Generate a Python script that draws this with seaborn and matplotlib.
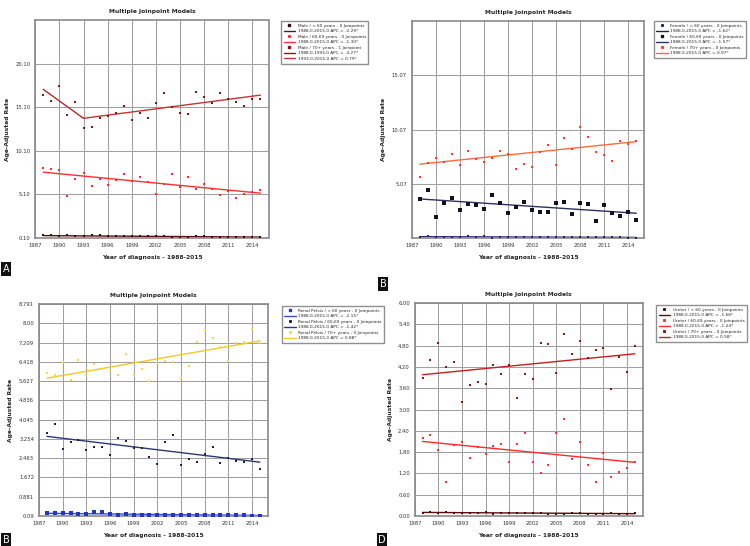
import matplotlib
matplotlib.use("Agg")
import matplotlib.pyplot as plt
from matplotlib.lines import Line2D
import seaborn as sns

years = list(range(1988, 2016))
x_ticks = list(range(1987, 2015, 3))

# Panel A - Male
male_lt60 = [0.40, 0.45, 0.38, 0.42, 0.36, 0.35, 0.44, 0.45, 0.33, 0.30, 0.36, 0.32, 0.28, 0.30,
             0.31, 0.30, 0.27, 0.26, 0.25, 0.33, 0.28, 0.24, 0.26, 0.27, 0.25, 0.22, 0.21, 0.20]
male_60_69 = [8.10, 8.04, 7.92, 4.95, 6.85, 7.58, 6.13, 6.93, 6.20, 6.78, 7.43, 6.66, 7.12, 6.51,
              5.10, 6.32, 7.47, 5.98, 7.16, 5.75, 6.36, 5.75, 4.99, 5.52, 4.64, 5.10, 5.33, 5.63]
male_70 = [16.50, 15.80, 17.60, 14.20, 15.70, 12.70, 12.85, 13.90, 14.10, 14.40, 15.20, 13.65, 14.40, 13.90,
           15.55, 16.74, 15.18, 14.40, 14.30, 16.90, 16.30, 15.55, 16.80, 16.05, 15.75, 15.25, 16.10, 16.10]
male_lt60_fit = [0.38, 0.21]
male_60_69_fit = [7.66, 5.25]
male_70_fit_a = [17.16, 13.84]
male_70_fit_b = [13.84, 16.50]

# Panel B - Female
female_lt60 = [0.20, 0.22, 0.21, 0.20, 0.17, 0.20, 0.22, 0.21, 0.23, 0.09, 0.18, 0.19, 0.17, 0.16,
               0.18, 0.17, 0.16, 0.17, 0.16, 0.14, 0.17, 0.15, 0.14, 0.13, 0.13, 0.15, 0.12, 0.12]
female_60_69 = [3.68, 4.54, 2.00, 3.34, 3.77, 2.67, 3.22, 3.10, 2.79, 4.02, 3.28, 2.42, 2.94, 3.37,
                2.67, 2.52, 2.52, 3.31, 3.37, 2.30, 3.31, 3.19, 1.66, 3.10, 2.42, 2.15, 2.52, 1.69]
female_70 = [5.73, 6.95, 7.47, 7.13, 7.84, 6.77, 8.14, 7.35, 7.13, 7.50, 8.11, 7.81, 6.43, 6.92,
             6.58, 8.02, 8.66, 6.83, 9.34, 8.33, 10.31, 9.37, 8.05, 7.72, 7.20, 9.00, 8.79, 9.00]
female_lt60_fit = [0.20, 0.13]
female_60_69_fit = [3.68, 2.36]
female_70_fit = [6.89, 8.97]

# Panel C - Renal pelvis
renal_lt60 = [0.21, 0.21, 0.21, 0.21, 0.17, 0.17, 0.24, 0.24, 0.17, 0.14, 0.17, 0.14, 0.14, 0.14,
              0.15, 0.14, 0.12, 0.14, 0.13, 0.14, 0.15, 0.13, 0.12, 0.15, 0.12, 0.13, 0.10, 0.10]
renal_60_69 = [3.50, 3.85, 2.83, 3.12, 3.19, 2.82, 2.91, 2.94, 2.60, 3.29, 3.16, 2.87, 2.89, 2.52,
               2.24, 3.12, 3.40, 2.20, 2.44, 2.30, 2.64, 2.91, 2.26, 2.48, 2.34, 2.30, 2.44, 2.03]
renal_70 = [5.98, 5.86, 6.43, 5.68, 6.50, 5.86, 6.32, 6.12, 6.05, 5.89, 6.74, 5.90, 6.12, 5.65,
            6.39, 6.47, 6.42, 5.75, 6.23, 7.25, 7.73, 7.40, 7.03, 6.46, 7.21, 7.22, 7.75, 7.18]
renal_lt60_fit = [0.20, 0.11]
renal_60_69_fit = [3.36, 2.30]
renal_70_fit = [5.75, 7.28]

# Panel D - Ureter
ureter_lt60 = [0.09, 0.11, 0.08, 0.11, 0.09, 0.09, 0.09, 0.09, 0.10, 0.06, 0.08, 0.09, 0.07, 0.08,
               0.07, 0.07, 0.06, 0.06, 0.06, 0.07, 0.07, 0.05, 0.05, 0.06, 0.07, 0.05, 0.05, 0.07]
ureter_60_69 = [2.20, 2.29, 1.86, 0.96, 2.00, 2.09, 1.63, 1.94, 1.76, 1.96, 2.03, 1.52, 2.02, 2.35,
                1.53, 1.20, 1.43, 2.34, 2.74, 1.61, 2.09, 1.44, 0.96, 1.77, 1.11, 1.23, 1.36, 1.51]
ureter_70 = [3.90, 4.39, 4.87, 4.20, 4.34, 3.22, 3.70, 3.77, 3.73, 4.26, 4.00, 4.26, 3.31, 4.00,
             3.85, 4.87, 4.85, 4.02, 5.13, 4.57, 4.92, 4.44, 4.68, 4.74, 3.59, 4.47, 4.05, 4.79]
ureter_lt60_fit = [0.10, 0.065]
ureter_60_69_fit = [2.10, 1.51]
ureter_70_fit = [3.98, 4.57]

full_span = [1988, 2015]

y_ticks_a = [0.10, 5.10, 10.10, 15.10, 20.10]
y_labels_a = ["0.10", "5.10", "10.10", "15.10", "20.10"]
y_ticks_b = [5.07, 10.07, 15.07]
y_labels_b = ["5.07", "10.07", "15.07"]
y_ticks_c = [0.09, 0.881, 1.672, 2.463, 3.254, 4.045, 4.836, 5.627, 6.418, 7.209, 8.0, 8.791]
y_labels_c = ["0.09", "0.881", "1.672", "2.463", "3.254", "4.045", "4.836", "5.627",
              "6.418", "7.209", "8.00", "8.791"]
y_ticks_d = [0.0, 0.6, 1.2, 1.8, 2.4, 3.0, 3.6, 4.2, 4.8, 5.4, 6.0]
y_labels_d = ["0.00", "0.60", "1.20", "1.80", "2.40", "3.00", "3.60", "4.20", "4.80", "5.40", "6.00"]

sns.set_style("white")
plt.rcParams["font.family"] = ["DejaVu Sans"]

fig = plt.figure(figsize=(7.5, 5.46), dpi=100)


def style_axes(ax, ylim, yticks, ylabels):
    ax.set_xlim(1987, 2016)
    ax.set_ylim(*ylim)
    ax.set_xticks(x_ticks)
    ax.set_xticklabels([str(t) for t in x_ticks], fontsize=3.8)
    ax.set_yticks(yticks)
    ax.set_yticklabels(ylabels, fontsize=3.8)
    ax.tick_params(length=2, width=0.5, pad=1.5, colors="#333333")
    ax.grid(True, color="#a0a0a0", lw=0.75)
    for s in ax.spines.values():
        s.set_color("#8a8a8a")
        s.set_linewidth(1.2)
    ax.set_title("Multiple Joinpoint Models", fontsize=4.3, fontweight="bold", pad=5)
    ax.set_xlabel("Year of diagnosis - 1988-2015", fontsize=4.3, fontweight="bold", labelpad=5)
    ax.set_ylabel("Age-Adjusted Rate", fontsize=4.3, fontweight="bold", labelpad=4)


def draw_series(ax, vals, color, size, marker="s"):
    sns.scatterplot(x=years, y=vals, ax=ax, color=color, marker=marker, s=size, linewidth=0, zorder=3)


def draw_fit(ax, xs, vals, color, lw=1.0):
    sns.lineplot(x=xs, y=vals, ax=ax, color=color, lw=lw, zorder=2)


def add_legend(ax, entries, anchor):
    handles = []
    labels = []
    for kind, color, label, size in entries:
        if kind == "pt":
            handles.append(Line2D([], [], ls="none", marker="s", color=color, markersize=size))
        else:
            handles.append(Line2D([], [], color=color, lw=1.0))
        labels.append(label)
    fig.legend(handles, labels, loc="upper left", bbox_to_anchor=anchor, fontsize=3.1,
               frameon=True, fancybox=False, edgecolor="#909090", framealpha=1,
               handlelength=2.6, handletextpad=0.6, labelspacing=0.35, borderpad=0.6)


# Panel A
ax_a = fig.add_axes([0.047, 0.564, 0.311, 0.399])
draw_series(ax_a, male_lt60, "#3a0808", 4)
draw_series(ax_a, male_60_69, "#ff2a2a", 2.2)
draw_series(ax_a, male_70, "#8b1515", 4.5)
draw_fit(ax_a, full_span, male_lt60_fit, "#5a1010")
draw_fit(ax_a, full_span, male_60_69_fit, "#ff3030")
draw_fit(ax_a, [1988, 1993], male_70_fit_a, "#b02a2a")
draw_fit(ax_a, [1993, 2015], male_70_fit_b, "#c03535")
style_axes(ax_a, (0.10, 25.10), y_ticks_a, y_labels_a)
add_legend(ax_a, [
    ("pt", "#3a0808", "Male / < 60 years - 0 Joinpoints", 1.5),
    ("ln", "#2a2a3a", "1988.0-2015.0 APC = -2.29*", 0),
    ("pt", "#ff2a2a", "Male / 60-69 years - 0 Joinpoints", 1.2),
    ("ln", "#ff3030", "1988.0-2015.0 APC = -1.30*", 0),
    ("pt", "#8b1515", "Male / 70+ years - 1 Joinpoint", 1.5),
    ("ln", "#8b1515", "1988.0-1993.0 APC = -4.27*", 0),
    ("ln", "#c03535", "1993.0-2015.0 APC = 0.79*", 0),
], (0.372, 0.965))

# Panel B
ax_b = fig.add_axes([0.549, 0.564, 0.310, 0.397])
draw_series(ax_b, female_lt60, "#252560", 2.5)
draw_series(ax_b, female_60_69, "#101028", 7)
draw_series(ax_b, female_70, "#ff3a2a", 2.2)
draw_fit(ax_b, full_span, female_lt60_fit, "#303078")
draw_fit(ax_b, full_span, female_60_69_fit, "#303060")
draw_fit(ax_b, full_span, female_70_fit, "#ff6a40")
style_axes(ax_b, (0.07, 20.07), y_ticks_b, y_labels_b)
add_legend(ax_b, [
    ("pt", "#252560", "Female / < 60 years - 0 Joinpoints", 1.2),
    ("ln", "#202040", "1988.0-2015.0 APC = -1.62*", 0),
    ("pt", "#101028", "Female / 60-69 years - 0 Joinpoints", 2.0),
    ("ln", "#303060", "1988.0-2015.0 APC = -1.57*", 0),
    ("pt", "#ff3a2a", "Female / 70+ years - 0 Joinpoints", 1.2),
    ("ln", "#ff6a40", "1988.0-2015.0 APC = 0.97*", 0),
], (0.869, 0.965))

# Panel C
ax_c = fig.add_axes([0.052, 0.055, 0.305, 0.388])
draw_series(ax_c, renal_lt60, "#2535c0", 5)
draw_series(ax_c, renal_60_69, "#1a2050", 3)
draw_series(ax_c, renal_70, "#f2da48", 3)
draw_fit(ax_c, full_span, renal_lt60_fit, "#3050d0")
draw_fit(ax_c, full_span, renal_60_69_fit, "#2a3a70")
draw_fit(ax_c, full_span, renal_70_fit, "#f0c828")
style_axes(ax_c, (0.09, 8.791), y_ticks_c, y_labels_c)
add_legend(ax_c, [
    ("pt", "#2535c0", "Renal Pelvis / < 60 years - 0 Joinpoints", 1.5),
    ("ln", "#3050d0", "1988.0-2015.0 APC = -2.15*", 0),
    ("pt", "#1a2050", "Renal Pelvis / 60-69 years - 0 Joinpoints", 1.2),
    ("ln", "#2a3a70", "1988.0-2015.0 APC = -1.42*", 0),
    ("pt", "#f2da48", "Renal Pelvis / 70+ years - 0 Joinpoints", 1.2),
    ("ln", "#f0c828", "1988.0-2015.0 APC = 0.88*", 0),
], (0.373, 0.443))

# Panel D
ax_d = fig.add_axes([0.553, 0.055, 0.304, 0.390])
draw_series(ax_d, ureter_lt60, "#4a0a0a", 3.5)
draw_series(ax_d, ureter_60_69, "#ff3030", 2.2)
draw_series(ax_d, ureter_70, "#901515", 4)
draw_fit(ax_d, full_span, ureter_lt60_fit, "#600a10")
draw_fit(ax_d, full_span, ureter_60_69_fit, "#ff2a2a")
draw_fit(ax_d, full_span, ureter_70_fit, "#c42020")
style_axes(ax_d, (0.0, 6.0), y_ticks_d, y_labels_d)
add_legend(ax_d, [
    ("pt", "#4a0a0a", "Ureter / < 60 years - 0 Joinpoints", 1.2),
    ("ln", "#600a10", "1988.0-2015.0 APC = -1.68*", 0),
    ("pt", "#ff3030", "Ureter / 60-69 years - 0 Joinpoints", 1.2),
    ("ln", "#ff2a2a", "1988.0-2015.0 APC = -1.24*", 0),
    ("pt", "#901515", "Ureter / 70+ years - 0 Joinpoints", 1.2),
    ("ln", "#c42020", "1988.0-2015.0 APC = 0.58*", 0),
], (0.872, 0.445))

# panel letters
for letter, (px, py) in [("A", (6, 269)), ("B", (383, 284)), ("B", (6, 540)), ("D", (382, 540))]:
    fig.text(px / 750, 1 - py / 546, letter, color="white", fontsize=7, ha="center", va="center",
             bbox=dict(facecolor="#111111", edgecolor="none", pad=1.2))

fig.savefig("out.png", dpi=100)
